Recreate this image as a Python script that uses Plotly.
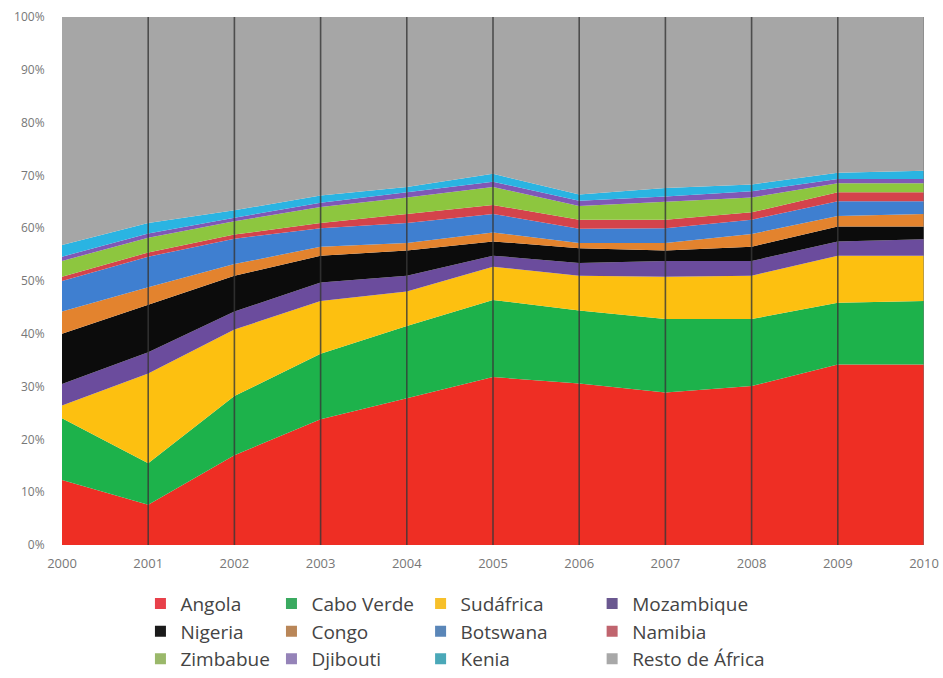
import plotly.graph_objects as go

years = [2000, 2001, 2002, 2003, 2004, 2005, 2006, 2007, 2008, 2009, 2010]

angola     = [12.3, 7.6, 17.0, 23.8, 27.8, 31.8, 30.6, 28.9, 30.1, 34.2, 34.2]
cabo_verde = [11.7, 7.9, 11.2, 12.4, 13.7, 14.6, 13.8, 13.9, 12.7, 11.7, 12.0]
sudafrica  = [2.4, 17.0, 12.6, 10.0, 6.5, 6.3, 6.6, 8.0, 8.2, 8.9, 8.6]
mozambique = [4.1, 4.0, 3.4, 3.5, 3.0, 2.1, 2.4, 3.0, 2.8, 2.7, 3.1]
nigeria    = [9.5, 9.0, 6.8, 5.1, 4.8, 2.7, 2.8, 2.0, 2.7, 2.8, 2.4]
congo      = [4.2, 3.3, 2.2, 1.7, 1.4, 1.7, 1.0, 1.4, 2.4, 2.0, 2.4]
botswana   = [5.8, 5.8, 4.8, 3.5, 3.8, 3.5, 2.7, 2.8, 2.7, 2.8, 2.4]
namibia    = [0.8, 0.8, 0.8, 1.0, 1.7, 1.7, 1.7, 1.6, 1.4, 1.7, 1.7]
zimbabue   = [3.0, 2.8, 2.5, 3.0, 3.1, 3.4, 2.6, 3.4, 2.8, 1.7, 1.7]
djibouti   = [0.8, 0.8, 0.7, 0.8, 1.0, 1.0, 1.0, 1.0, 1.2, 0.8, 0.8]
kenia      = [2.2, 2.0, 1.4, 1.4, 1.0, 1.5, 1.2, 1.6, 1.3, 1.2, 1.6]
resto      = [43.2, 39.0, 36.6, 33.8, 32.2, 29.7, 33.6, 32.4, 31.7, 29.5, 29.1]

names = ["Angola", "Cabo Verde", "Sudáfrica", "Mozambique",
         "Nigeria", "Congo", "Botswana", "Namibia",
         "Zimbabue", "Djibouti", "Kenia", "Resto de África"]
series = [angola, cabo_verde, sudafrica, mozambique, nigeria, congo,
          botswana, namibia, zimbabue, djibouti, kenia, resto]
colors = ["#ee2e24", "#1db24b", "#fdc010", "#6b4c9d",
          "#0c0c0c", "#e3832e", "#3f7fd0", "#d4434b",
          "#8dc63f", "#7f58b6", "#2ab4e2", "#a6a6a6"]
legend_colors = ["#e8404a", "#3aaa60", "#f7c02a", "#6a5890",
                 "#1a1a1a", "#b98658", "#5a86b8", "#c0646e",
                 "#9ab86a", "#9583b8", "#4aa8b8", "#a8a8a8"]

y_ticks = [0, 10, 20, 30, 40, 50, 60, 70, 80, 90, 100]
y_labels = [f"{v}%" for v in y_ticks]

fig = go.Figure()
for n, s, c in zip(names, series, colors):
    fig.add_trace(go.Scatter(
        x=years, y=s, name=n, mode="lines",
        stackgroup="one", line=dict(width=0, color=c),
        fillcolor=c, showlegend=False, hoverinfo="x+y+name",
    ))

# legend entries: 4 columns, 3 rows (column-wise legends)
legend_ids = ["legend", "legend2", "legend3", "legend4"]
for i, (n, c) in enumerate(zip(names, legend_colors)):
    fig.add_trace(go.Scatter(
        x=[None], y=[None], name=n, mode="markers",
        marker=dict(symbol="square", size=11, color=c),
        legend=legend_ids[i % 4], legendgroup=n, showlegend=True,
    ))

# vertical separators drawn above areas
for yr in years[1:]:
    fig.add_shape(type="line", xref="x", yref="paper", x0=yr, x1=yr, y0=0, y1=1,
                  line=dict(color="rgba(55,55,55,0.8)" if yr != years[-1] else "rgba(120,120,120,0.6)", width=1.6),
                  layer="above")

leg_common = dict(orientation="v", xanchor="left", yanchor="top",
                  font=dict(family="Open Sans, Lato, sans-serif", size=19, color="#444"),
                  bgcolor="rgba(0,0,0,0)", itemwidth=30, tracegroupgap=11,
                  traceorder="normal", y=-0.075)
col_x = [0.091, 0.243, 0.416, 0.615]

fig.update_layout(
    width=943, height=678,
    margin=dict(l=62, r=19, t=17, b=133, autoexpand=False),
    paper_bgcolor="white", plot_bgcolor="white",
    showlegend=True,
    legend=dict(**leg_common, x=col_x[0]),
    legend2=dict(**leg_common, x=col_x[1]),
    legend3=dict(**leg_common, x=col_x[2]),
    legend4=dict(**leg_common, x=col_x[3]),
    xaxis=dict(range=[years[0], years[-1]], tickvals=years, ticktext=[str(y) for y in years],
               showgrid=False, zeroline=False, showline=False, automargin=False,
               ticks="outside", ticklen=6, tickcolor="rgba(0,0,0,0)",
               ticklabeloverflow="allow",
               tickfont=dict(family="Open Sans, sans-serif", size=13, color="#777")),
    yaxis=dict(range=[0, 100], tickvals=y_ticks, ticktext=y_labels,
               showgrid=False, zeroline=False, showline=False, automargin=False,
               ticks="outside", ticklen=14, tickcolor="rgba(0,0,0,0)",
               ticklabeloverflow="allow",
               tickfont=dict(family="Open Sans, sans-serif", size=12, color="#777")),
)

fig.write_html("out.html", config={"displayModeBar": False},
               post_script="document.body.style.margin='0';document.body.style.overflow='hidden';")
